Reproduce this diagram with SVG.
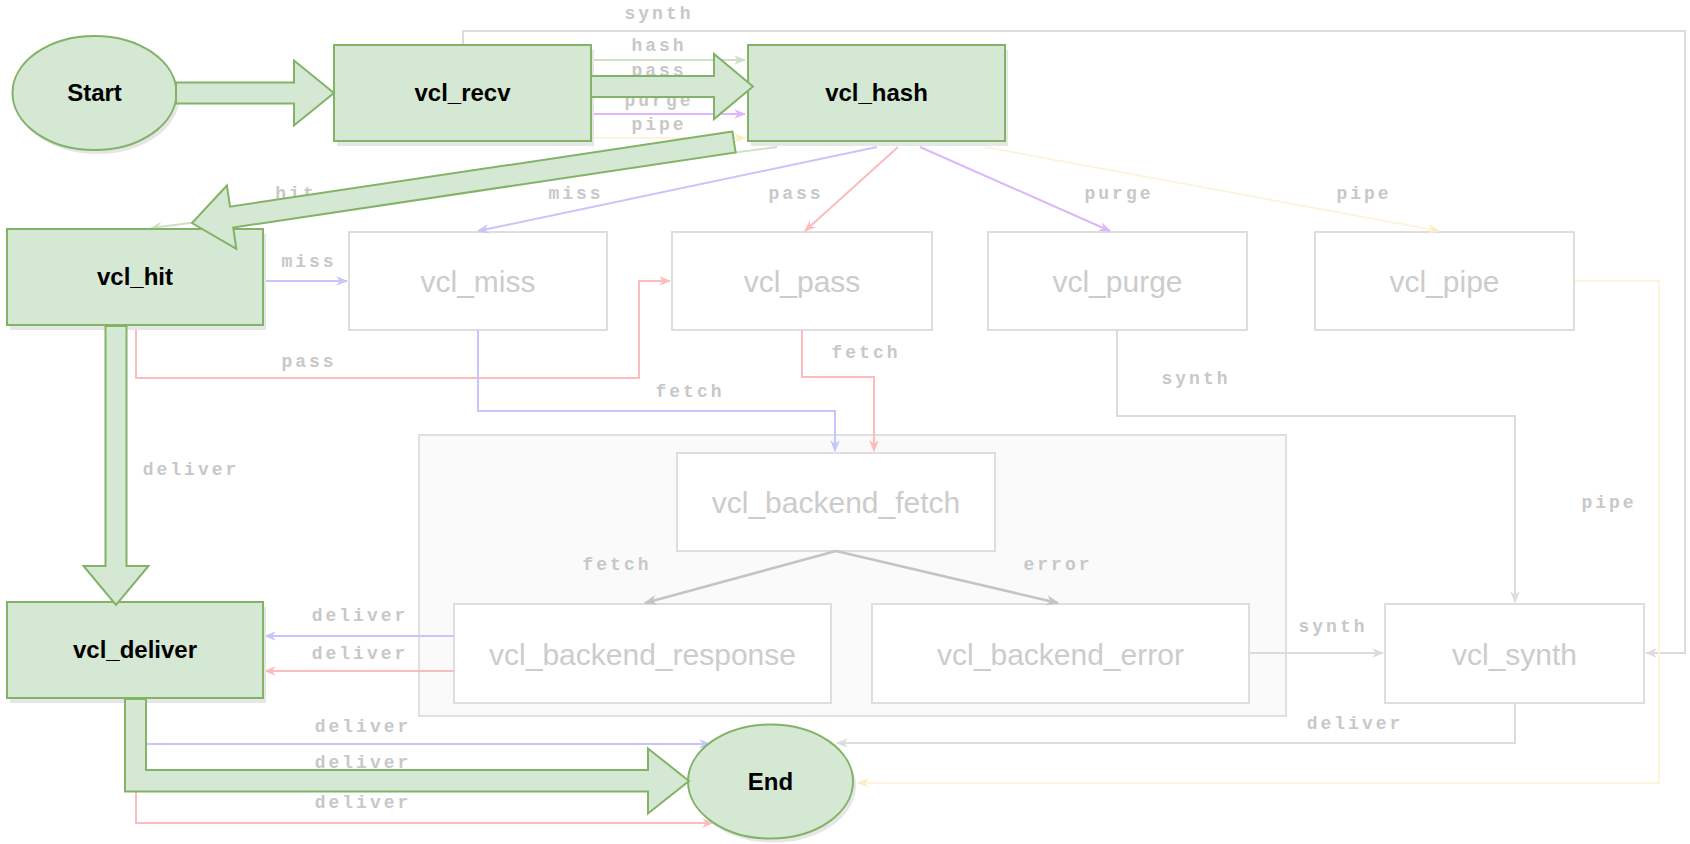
<svg xmlns="http://www.w3.org/2000/svg" width="1690" height="844" viewBox="0 0 1690 844">
  <style>
    .green { fill: #d5e8d4; stroke: #82b366; stroke-width: 2; }
    .shadow { fill: #e6e6e6; stroke: none; }
    .grey { fill: #ffffff; stroke: #dedede; stroke-width: 2; }
    .cluster { fill: #fafafa; stroke: #e0e0e0; stroke-width: 2; }
    .gtxt { font-family: "Liberation Sans", Arial, sans-serif; font-weight: bold; font-size: 24px; fill: #000; text-anchor: middle; }
    .ntxt { font-family: "Liberation Sans", Arial, sans-serif; font-size: 30px; fill: #cccccc; text-anchor: middle; }
    .etxt { font-family: "Liberation Mono", "Courier New", monospace; font-weight: bold; font-size: 18px; letter-spacing: 3px; fill: #c8c8c8; text-anchor: middle; }
    .e { fill: none; stroke-width: 2; }
    .blue { stroke: #c6c6fc; }
    .red { stroke: #fcbcbc; }
    .purple { stroke: #dcb8fa; }
    .yellow { stroke: #fcf4dc; }
    .gray { stroke: #dcdcdc; }
    .dgray { stroke: #c4c4c4; stroke-width: 2.5; }
    .ggreen { stroke: #cfe0c8; }
  </style>
  <defs>
    <marker id="m-blue" viewBox="0 0 10 10" refX="9" refY="5" markerWidth="12" markerHeight="12" markerUnits="userSpaceOnUse" orient="auto"><path d="M0,1 L10,5 L0,9 L3,5 z" fill="#c6c6fc"/></marker>
    <marker id="m-red" viewBox="0 0 10 10" refX="9" refY="5" markerWidth="12" markerHeight="12" markerUnits="userSpaceOnUse" orient="auto"><path d="M0,1 L10,5 L0,9 L3,5 z" fill="#fcbcbc"/></marker>
    <marker id="m-purple" viewBox="0 0 10 10" refX="9" refY="5" markerWidth="12" markerHeight="12" markerUnits="userSpaceOnUse" orient="auto"><path d="M0,1 L10,5 L0,9 L3,5 z" fill="#dcb8fa"/></marker>
    <marker id="m-yellow" viewBox="0 0 10 10" refX="9" refY="5" markerWidth="12" markerHeight="12" markerUnits="userSpaceOnUse" orient="auto"><path d="M0,1 L10,5 L0,9 L3,5 z" fill="#fcecc4"/></marker>
    <marker id="m-gray" viewBox="0 0 10 10" refX="9" refY="5" markerWidth="12" markerHeight="12" markerUnits="userSpaceOnUse" orient="auto"><path d="M0,1 L10,5 L0,9 L3,5 z" fill="#dcdcdc"/></marker>
    <marker id="m-dgray" viewBox="0 0 10 10" refX="9" refY="5" markerWidth="13" markerHeight="13" markerUnits="userSpaceOnUse" orient="auto"><path d="M0,1 L10,5 L0,9 L3,5 z" fill="#c4c4c4"/></marker>
    <marker id="m-ggreen" viewBox="0 0 10 10" refX="9" refY="5" markerWidth="12" markerHeight="12" markerUnits="userSpaceOnUse" orient="auto"><path d="M0,1 L10,5 L0,9 L3,5 z" fill="#cfe0c8"/></marker>
  </defs>

  <rect width="1690" height="844" fill="#ffffff"/>

  <!-- backend cluster -->
  <g id="backend-cluster">
    <rect class="cluster" x="419" y="435" width="867" height="281"/>
  </g>

  <!-- inactive subroutines -->
  <g id="vcl_miss"><rect class="grey" x="349" y="232" width="258" height="98"/><text class="ntxt" x="478" y="292">vcl_miss</text></g>
  <g id="vcl_pass"><rect class="grey" x="672" y="232" width="260" height="98"/><text class="ntxt" x="802" y="292">vcl_pass</text></g>
  <g id="vcl_purge"><rect class="grey" x="988" y="232" width="259" height="98"/><text class="ntxt" x="1117.5" y="292">vcl_purge</text></g>
  <g id="vcl_pipe"><rect class="grey" x="1315" y="232" width="259" height="98"/><text class="ntxt" x="1444.5" y="292">vcl_pipe</text></g>
  <g id="vcl_backend_fetch"><rect class="grey" x="677" y="453" width="318" height="98"/><text class="ntxt" x="836" y="513">vcl_backend_fetch</text></g>
  <g id="vcl_backend_response"><rect class="grey" x="454" y="604" width="377" height="99"/><text class="ntxt" x="642.5" y="665">vcl_backend_response</text></g>
  <g id="vcl_backend_error"><rect class="grey" x="872" y="604" width="377" height="99"/><text class="ntxt" x="1060.5" y="665">vcl_backend_error</text></g>
  <g id="vcl_synth"><rect class="grey" x="1385" y="604" width="259" height="99"/><text class="ntxt" x="1514.5" y="665">vcl_synth</text></g>

  <!-- thin transitions -->
  <g id="connectors">
    <path class="e ggreen" d="M591,60 L745,60" marker-end="url(#m-ggreen)"/>
    <path class="e red" d="M591,84 L745,84" marker-end="url(#m-red)"/>
    <path class="e purple" d="M591,114 L745,114" marker-end="url(#m-purple)"/>
    <path class="e yellow" d="M591,138 L745,138" marker-end="url(#m-yellow)"/>
    <path class="e gray" d="M463,45 L463,31 L1685,31 L1685,653 L1646,653" marker-end="url(#m-gray)"/>
    <path class="e ggreen" d="M777,147 L151,228" marker-end="url(#m-ggreen)"/>
    <path class="e blue" d="M877,147 L478,231" marker-end="url(#m-blue)"/>
    <path class="e red" d="M898,147 L805,231" marker-end="url(#m-red)"/>
    <path class="e purple" d="M920,147 L1110,231" marker-end="url(#m-purple)"/>
    <path class="e yellow" d="M985,147 L1439,231" marker-end="url(#m-yellow)"/>
    <path class="e blue" d="M263,281 L347,281" marker-end="url(#m-blue)"/>
    <path class="e red" d="M136,326 L136,378 L639,378 L639,281 L670,281" marker-end="url(#m-red)"/>
    <path class="e blue" d="M478,330 L478,411 L835,411 L835,451" marker-end="url(#m-blue)"/>
    <path class="e red" d="M802,330 L802,377 L874,377 L874,451" marker-end="url(#m-red)"/>
    <path class="e gray" d="M1117,330 L1117,416 L1515,416 L1515,602" marker-end="url(#m-gray)"/>
    <path class="e yellow" d="M1575,281 L1659,281 L1659,783 L858,783" marker-end="url(#m-yellow)"/>
    <path class="e dgray" d="M836,551 L645,603" marker-end="url(#m-dgray)"/>
    <path class="e dgray" d="M836,551 L1058,603" marker-end="url(#m-dgray)"/>
    <path class="e blue" d="M454,636 L265,636" marker-end="url(#m-blue)"/>
    <path class="e red" d="M454,671 L265,671" marker-end="url(#m-red)"/>
    <path class="e gray" d="M1249,653 L1383,653" marker-end="url(#m-gray)"/>
    <path class="e gray" d="M1515,703 L1515,743 L837,743" marker-end="url(#m-gray)"/>
    <path class="e blue" d="M136,699 L136,744 L710,744" marker-end="url(#m-blue)"/>
    <path class="e red" d="M136,699 L136,823 L713,823" marker-end="url(#m-red)"/>
  </g>

  <!-- transition labels -->
  <g id="edge-labels">
    <text class="etxt" x="659" y="19">synth</text>
    <text class="etxt" x="659" y="51">hash</text>
    <text class="etxt" x="659" y="76">pass</text>
    <text class="etxt" x="659" y="106">purge</text>
    <text class="etxt" x="659" y="130">pipe</text>
    <text class="etxt" x="296" y="199">hit</text>
    <text class="etxt" x="576" y="199">miss</text>
    <text class="etxt" x="796" y="199">pass</text>
    <text class="etxt" x="1119" y="199">purge</text>
    <text class="etxt" x="1364" y="199">pipe</text>
    <text class="etxt" x="309" y="267">miss</text>
    <text class="etxt" x="309" y="367">pass</text>
    <text class="etxt" x="191" y="475">deliver</text>
    <text class="etxt" x="690" y="397">fetch</text>
    <text class="etxt" x="866" y="358">fetch</text>
    <text class="etxt" x="1196" y="384">synth</text>
    <text class="etxt" x="1609" y="508">pipe</text>
    <text class="etxt" x="617" y="570">fetch</text>
    <text class="etxt" x="1058" y="570">error</text>
    <text class="etxt" x="360" y="621">deliver</text>
    <text class="etxt" x="360" y="659">deliver</text>
    <text class="etxt" x="1333" y="632">synth</text>
    <text class="etxt" x="1355" y="729">deliver</text>
    <text class="etxt" x="363" y="732">deliver</text>
    <text class="etxt" x="363" y="768">deliver</text>
    <text class="etxt" x="363" y="808">deliver</text>
  </g>

  <!-- active subroutines -->
  <g id="start">
    <ellipse class="shadow" cx="97.5" cy="97" rx="82" ry="57"/>
    <ellipse class="green" cx="94.5" cy="93" rx="82" ry="57"/>
    <text class="gtxt" x="94.5" y="101">Start</text>
  </g>
  <g id="vcl_recv">
    <rect class="shadow" x="337" y="50" width="257" height="96"/>
    <rect class="green" x="334" y="45" width="257" height="96"/>
    <text class="gtxt" x="462.5" y="101">vcl_recv</text>
  </g>
  <g id="vcl_hash">
    <rect class="shadow" x="751" y="50" width="257" height="96"/>
    <rect class="green" x="748" y="45" width="257" height="96"/>
    <text class="gtxt" x="876.5" y="101">vcl_hash</text>
  </g>
  <g id="vcl_hit">
    <rect class="shadow" x="10" y="234" width="256" height="96"/>
    <rect class="green" x="7" y="229" width="256" height="96"/>
    <text class="gtxt" x="135" y="285">vcl_hit</text>
  </g>
  <g id="vcl_deliver">
    <rect class="shadow" x="10" y="607" width="256" height="96"/>
    <rect class="green" x="7" y="602" width="256" height="96"/>
    <text class="gtxt" x="135" y="658">vcl_deliver</text>
  </g>
  <g id="end">
    <ellipse class="shadow" cx="773.5" cy="785.5" rx="82.5" ry="57"/>
    <ellipse class="green" cx="770.5" cy="781.5" rx="82.5" ry="57"/>
    <text class="gtxt" x="770.5" y="790">End</text>
  </g>

  <!-- highlighted request path -->
  <g id="path-arrows">
    <polygon class="green" points="176,82.5 294,82.5 294,60.5 334,93 294,125.5 294,103.5 176,103.5"/>
    <polygon class="green" points="591,76 714,76 714,54 753,86.5 714,119 714,97 591,97"/>
    <polygon class="green" points="732.4,131.6 230,206.7 226.9,185.5 192,223 236.3,248.8 233.2,227.5 735.6,152.4"/>
    <polygon class="green" points="105.5,326 126.5,326 126.5,566 148.5,566 116,605 83.5,566 105.5,566"/>
    <polygon class="green" points="125,699 146,699 146,770 648,770 648,748.5 689,781 648,813.5 648,791.5 125,791.5"/>
  </g>
</svg>
